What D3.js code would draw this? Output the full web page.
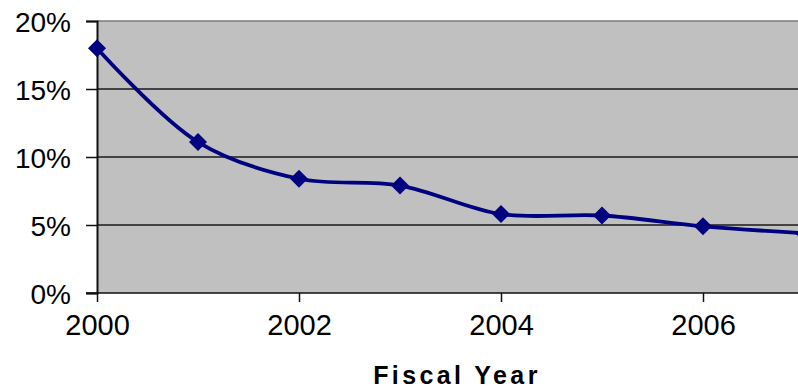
<!DOCTYPE html>
<html>
<head>
<meta charset="utf-8">
<script src="https://cdn.jsdelivr.net/npm/d3@7"></script>
<style>
  html, body { margin: 0; padding: 0; background: #fff; }
  svg { display: block; }
  text { font-family: "Liberation Sans", Arial, sans-serif; fill: #000; }
</style>
</head>
<body>
<svg id="chart" width="798" height="390"></svg>
<script>
// Fiscal years and rate for each year
const years = [2000, 2001, 2002, 2003, 2004, 2005, 2006, 2007];
const rates = [18.0, 11.1, 8.4, 7.9, 5.8, 5.7, 4.9, 4.4];
const yTicks = [0, 5, 10, 15, 20];
const xTicks = [2000, 2002, 2004, 2006];
const xTitle = "Fiscal Year";

const svg = d3.select("#chart");
const plotLeft = 97, plotTop = 21, plotBottom = 293;

const x = d3.scaleLinear().domain([2000, 2006]).range([plotLeft, 703]);
const y = d3.scaleLinear().domain([0, 20]).range([plotBottom, plotTop]);

// plot area background (extends past the right edge)
svg.append("rect")
  .attr("x", plotLeft).attr("y", plotTop)
  .attr("width", 798 - plotLeft + 10).attr("height", plotBottom - plotTop)
  .attr("fill", "#c0c0c0");

// horizontal gridlines
svg.append("g").selectAll("line")
  .data(yTicks.filter(d => d > 0))
  .join("line")
  .attr("x1", plotLeft).attr("x2", 800)
  .attr("y1", d => y(d)).attr("y2", d => y(d))
  .attr("stroke", d => d === 20 ? "#7a7a7a" : "#1a1a1a")
  .attr("stroke-width", 1.5);

// y axis
const yAxis = svg.append("g")
  .attr("transform", `translate(${plotLeft},0)`)
  .call(d3.axisLeft(y).tickValues(yTicks).tickFormat(d => d + "%").tickSize(11).tickPadding(15));
yAxis.select(".domain").attr("stroke", "#111").attr("stroke-width", 2);
yAxis.selectAll(".tick line").attr("stroke", "#111").attr("stroke-width", 1.5);
yAxis.selectAll("text").style("font-size", "28px").attr("dy", "0.36em");

// x axis
const xAxis = svg.append("g")
  .attr("transform", `translate(0,${plotBottom})`)
  .call(d3.axisBottom(x).tickValues(xTicks).tickFormat(d3.format("d")).tickSize(9).tickPadding(12));
xAxis.select(".domain").remove();
xAxis.append("line").attr("x1", plotLeft - 11).attr("x2", 800).attr("stroke", "#111").attr("stroke-width", 1.5);
xAxis.selectAll(".tick line").attr("stroke", "#111").attr("stroke-width", 1.5);
xAxis.selectAll("text").style("font-size", "29px").attr("dy", "0.71em");

// axis title
svg.append("text")
  .attr("x", 457).attr("y", 384)
  .attr("text-anchor", "middle")
  .style("font-size", "25px").style("font-weight", "bold").style("letter-spacing", "3.4px")
  .text(xTitle);

const data = years.map((yr, i) => ({ yr, v: rates[i] }));

// smoothed series line
svg.append("path")
  .datum(data)
  .attr("fill", "none")
  .attr("stroke", "#000080")
  .attr("stroke-width", 3.8)
  .attr("d", d3.line().x(d => x(d.yr)).y(d => y(d.v)).curve(d3.curveCatmullRom.alpha(0.5)));

// diamond markers
svg.append("g").selectAll("path")
  .data(data)
  .join("path")
  .attr("transform", d => `translate(${x(d.yr)},${y(d.v)})`)
  .attr("d", "M0,-9L9,0L0,9L-9,0Z")
  .attr("fill", "#000080");
</script>
</body>
</html>
